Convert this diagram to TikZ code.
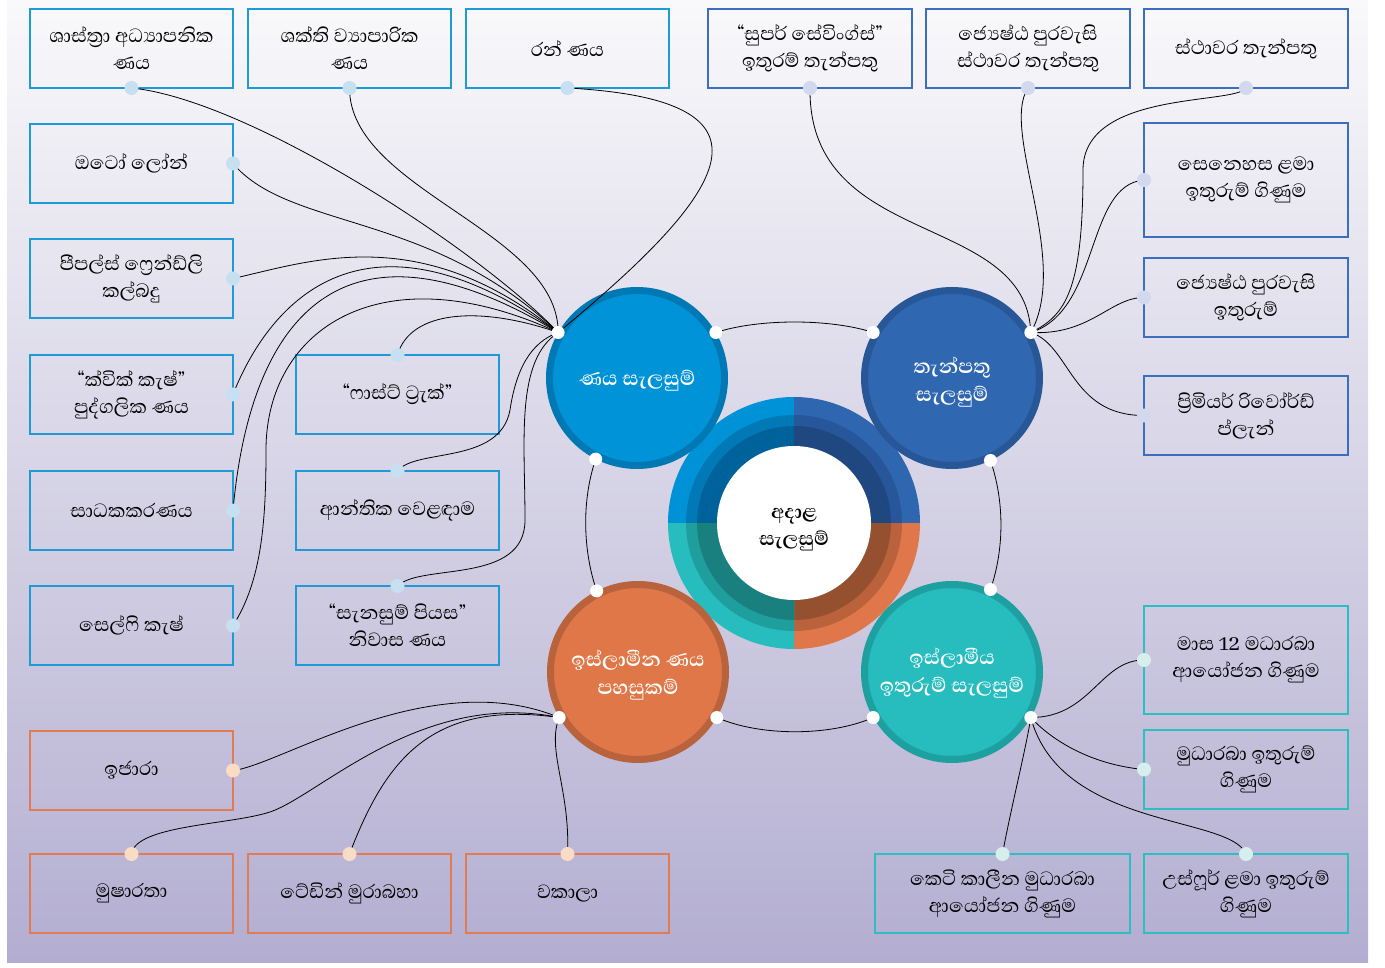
\documentclass[tikz,border=0pt]{standalone}
\usepackage{fontspec}
\setmainfont{Abhaya Libre}[Script=Sinhala]
\definecolor{bgtop}{HTML}{F9F9FB}
\definecolor{bgbot}{HTML}{B3AED1}
\definecolor{tlA}{HTML}{0092D6}\definecolor{tlB}{HTML}{0079B6}\definecolor{tlC}{HTML}{00629A}
\definecolor{trA}{HTML}{2E66B0}\definecolor{trB}{HTML}{27569A}\definecolor{trC}{HTML}{1F4880}
\definecolor{brA}{HTML}{E0774A}\definecolor{brB}{HTML}{B9623C}\definecolor{brC}{HTML}{955030}
\definecolor{blA}{HTML}{27BCBD}\definecolor{blB}{HTML}{1F9E9E}\definecolor{blC}{HTML}{1A807F}
\definecolor{cAf}{HTML}{0093D7}\definecolor{cAb}{HTML}{0078B4}
\definecolor{cBf}{HTML}{2F67B1}\definecolor{cBb}{HTML}{285797}
\definecolor{cCf}{HTML}{E07748}\definecolor{cCb}{HTML}{B9633D}
\definecolor{cDf}{HTML}{27BCBD}\definecolor{cDb}{HTML}{1FA0A0}
\definecolor{bxA}{HTML}{1E9BD7}\definecolor{bxB}{HTML}{3B6EBF}
\definecolor{bxC}{HTML}{E07B52}\definecolor{bxD}{HTML}{2CBEC0}
\definecolor{dtA}{HTML}{C6E0F2}\definecolor{dtB}{HTML}{D2D8EE}
\definecolor{dtC}{HTML}{F8DCC6}\definecolor{dtD}{HTML}{D6EFEC}
\newcommand\bxfont{\fontsize{24.5}{27}\selectfont}
\newcommand\stfont{\fontsize{25.5}{28}\selectfont\bfseries}
\newcommand\ctfont{\fontsize{24.5}{27}\selectfont\bfseries}
\begin{document}
\begin{tikzpicture}[x=1pt,y=-1pt,
  box/.style={draw, rectangle, line width=1.3pt, minimum width=203pt, minimum height=79pt,
    inner sep=0pt, outer sep=0pt, align=center, font=\bxfont, text=black},
  boxA/.style={box, draw=bxA},
  boxB/.style={box, draw=bxB},
  boxC/.style={box, draw=bxC},
  boxD/.style={box, draw=bxD},
  sat/.style={circle, minimum size=175pt, line width=7pt, inner sep=0pt, outer sep=3.5pt},
  sattext/.style={align=center, text=white, font=\stfont, inner sep=0pt},
  link/.style={draw=black, line width=0.8pt},
  dotA/.style={fill=dtA}, dotB/.style={fill=dtB}, dotC/.style={fill=dtC}, dotD/.style={fill=dtD},
  hub/.style={fill=white}]
\useasboundingbox (0,0) rectangle (1385,968);
\shade[top color=bgtop, bottom color=bgbot] (7,0) rectangle (1368,962);

% central donut
\coordinate (ctr) at (794,523);
\foreach \a/\c in {90/tl,0/tr,270/br,180/bl}{
  \fill[\c A] (ctr) -- ++(\a:126pt) arc[start angle=\a, delta angle=90, radius=126pt] -- cycle;
  \fill[\c B] (ctr) -- ++(\a:108pt) arc[start angle=\a, delta angle=90, radius=108pt] -- cycle;
  \fill[\c C] (ctr) -- ++(\a:97pt) arc[start angle=\a, delta angle=90, radius=97pt] -- cycle;
}
\node[circle, fill=white, minimum size=154pt, inner sep=0pt] (center) at (ctr) {};
\node[align=center, font=\ctfont, inner sep=0pt] (centertext) at ([yshift=-7pt]center.center) {අදාළ\\සැලසුම්};

% satellite circles
\node[sat, fill=cAf, draw=cAb] (c1) at (637,378) {};
\node[sat, fill=cBf, draw=cBb] (c2) at (952,378) {};
\node[sat, fill=cCf, draw=cCb] (c3) at (638,672) {};
\node[sat, fill=cDf, draw=cDb] (c4) at (952,672) {};
\node[sattext] (c1t) at ([yshift=-3pt]c1.center) {ණය සැලසුම්};
\node[sattext] (c2t) at ([yshift=-4pt]c2.center) {තැන්පතු\\සැලසුම්};
\node[sattext] (c3t) at ([yshift=-3pt]c3.center) {ඉස්ලාමීන ණය\\පහසුකම්};
\node[sattext] (c4t) at ([yshift=-1pt]c4.center) {ඉස්ලාමීය\\ඉතුරුම් සැලසුම්};

% boxes: top row
\node[boxA] (b1) at (131.5,48.5) {ශාස්ත්^^^^200dරා අධ්^^^^200dයාපනික\\ණය};
\node[boxA] (b2) at (349.5,48.5) {ශක්ති ව්^^^^200dයාපාරික\\ණය};
\node[boxA] (b3) at (567.5,48.5) {රන් ණය};
\node[boxB, minimum width=204pt] (b4) at (810,48.5) {“සුපර් සේවිංග්ස්”\\ඉතුරම් තැන්පතු};
\node[boxB, minimum width=204pt] (b5) at (1028,48.5) {ජ්^^^^200dයෙෂ්ඨ පුරවැසි\\ස්ථාවර තැන්පතු};
\node[boxB, minimum width=204pt] (b6) at (1246,48.5) {ස්ථාවර තැන්පතු};
% right column
\node[boxB, minimum width=204pt, minimum height=114pt] (b7) at (1246,180) {සෙනෙහස ළමා\\ඉතුරුම් ගිණුම};
\node[boxB, minimum width=204pt] (b8) at (1246,297.5) {ජ්^^^^200dයෙෂ්ඨ පුරවැසි\\ඉතුරුම්};
\node[boxB, minimum width=204pt] (b9) at (1246,415.5) {ප්^^^^200dරිමියර් රිවෝර්ඩ්\\ප්ලැන්};
% left columns
\node[boxA] (l1) at (131.5,163.5) {ඔටෝ ලෝන්};
\node[boxA] (l2) at (131.5,278.5) {පීපල්ස් ෆ්^^^^200dරෙන්ඩ්ලි\\කල්බදු};
\node[boxA] (l3) at (131.5,394.5) {“ක්වික් කැෂ්”\\පුද්ගලික ණය};
\node[boxA] (l4) at (131.5,510.5) {සාධකකරණය};
\node[boxA] (l5) at (131.5,625.5) {සෙල්ෆි කැෂ්};
\node[boxA] (m1) at (397.5,394.5) {“ෆාස්ට් ට්^^^^200dරැක්”};
\node[boxA] (m2) at (397.5,510.5) {ආන්තික වෙළඳාම};
\node[boxA] (m3) at (397.5,625.5) {“සැනසුම් පියස”\\නිවාස ණය};
% bottom left (orange)
\node[boxC] (o1) at (131.5,770.5) {ඉජාරා};
\node[boxC] (o2) at (131.5,893.5) {මුෂාරතා};
\node[boxC] (o3) at (349.5,893.5) {ටේඩින් මුරාබහා};
\node[boxC] (o4) at (567.5,893.5) {වකාලා};
% bottom right (teal)
\node[boxD, minimum width=204pt, minimum height=108pt] (t1) at (1246,660) {මාස 12 මධාරබා\\ආයෝජන ගිණුම};
\node[boxD, minimum width=204pt] (t2) at (1246,769.5) {මුධාරබා ඉතුරුම්\\ගිණුම};
\node[boxD, minimum width=255pt] (t3) at (1002.5,893.5) {කෙටි කාලීන මුධාරබා\\ආයෝජන ගිණුම};
\node[boxD, minimum width=204pt] (t4) at (1246,893.5) {උස්ෆූර් ළමා ඉතුරුම්\\ගිණුම};

% links between circles
\path[link] (c1.30) .. controls +(43,-14) and +(-43,-14) .. (c2.150);
\path[link] (c1.243) .. controls +(-14,41) and +(-14,-41) .. (c3.117);
\path[link] (c2.295) .. controls +(14,41) and +(14,-41) .. (c4.65);
\path[link] (c3.330) .. controls +(43,19) and +(-43,19) .. (c4.210);

% fan from c1
\path[link] (b1.south) .. controls +(119,12) and +(-78,-82) .. (c1.150);
\path[link] (b2.south) .. controls +(0,102) and +(0,-102) .. (c1.150);
\path[link] (b3.south) .. controls +(223,12) and +(172,-142) .. (c1.150);
\path[link] (l1.east) .. controls +(57,67) and +(-128,-122) .. (c1.150);
\path[link] (l2.east) .. controls +(77,-17) and +(-138,-112) .. (c1.150);
\path[link] (l3.east) .. controls +(29,-74) and +(-208,-147) .. (c1.150);
\path[link] (l4.east) .. controls +(17,-190) and +(-218,-132) .. (c1.150);
\path[link] (l5.east) .. controls +(29,-45) and (266,520) .. (266,450) .. controls (266,330) and +(-178,-82) .. (c1.150);
\path[link] (m1.north) .. controls +(13,-45) and +(-78,-27) .. (c1.150);
\path[link] (m2.north) .. controls +(18,-23) and (500,465) .. (510,410) .. controls (516,370) and +(-28,10) .. (c1.150);
\path[link] (m3.north) .. controls +(23,-23) and (525,585) .. (525,520) .. controls (525,440) and +(-43,28) .. (c1.150);

% fan from c2
\path[link] (b4.south) .. controls +(-2,162) and +(-5,-122) .. (c2.30);
\path[link] (b5.south) .. controls +(-28,42) and +(40,-72) .. (c2.30);
\path[link] (b6.south) .. controls +(-11,17) and (1083,90) .. (1083,170) .. controls (1083,290) and +(35,-17) .. (c2.30);
\path[link] (b7.west) .. controls +(-59,5) and +(70,-22) .. (c2.30);
\path[link] (b8.west) .. controls +(-34,0) and +(60,3) .. (c2.30);
\path[link] (b9.west) .. controls +(-74,0) and +(40,13) .. (c2.30);

% fan from c3
\path[link] (o1.east) .. controls +(47,-5) and +(-128,-53) .. (c3.210);
\path[link] (o2.north) .. controls +(4,-29) and (230,825) .. (270,812) .. controls (320,795) and +(-138,-28) .. (c3.210);
\path[link] (o3.north) .. controls +(36,-94) and +(-128,-18) .. (c3.210);
\path[link] (o4.north) .. controls +(3,-64) and +(-13,32) .. (c3.210);

% fan from c4
\path[link] (t1.west) .. controls +(-44,0) and +(60,0) .. (c4.330);
\path[link] (t2.west) .. controls +(-54,-5) and +(20,22) .. (c4.330);
\path[link] (t3.north) .. controls +(8,-44) and +(-5,32) .. (c4.330);
\path[link] (t4.north) .. controls +(-16,-39) and +(30,112) .. (c4.330);

% dots on circles
\foreach \n/\a in {c1/150,c1/30,c1/243,c2/150,c2/30,c2/295,c3/117,c3/210,c3/330,c4/65,c4/210,c4/330}
  \fill[hub] (\n.\a) circle[radius=6.5pt];
% dots on boxes
\foreach \p in {b1.south,b2.south,b3.south,l1.east,l2.east,l3.east,l4.east,l5.east,m1.north,m2.north,m3.north}
  \fill[dotA] (\p) circle[radius=7pt];
\foreach \p in {b4.south,b5.south,b6.south,b7.west,b8.west,b9.west}
  \fill[dotB] (\p) circle[radius=7pt];
\foreach \p in {o1.east,o2.north,o3.north,o4.north}
  \fill[dotC] (\p) circle[radius=7pt];
\foreach \p in {t1.west,t2.west,t3.north,t4.north}
  \fill[dotD] (\p) circle[radius=7pt];
\end{tikzpicture}
\end{document}
